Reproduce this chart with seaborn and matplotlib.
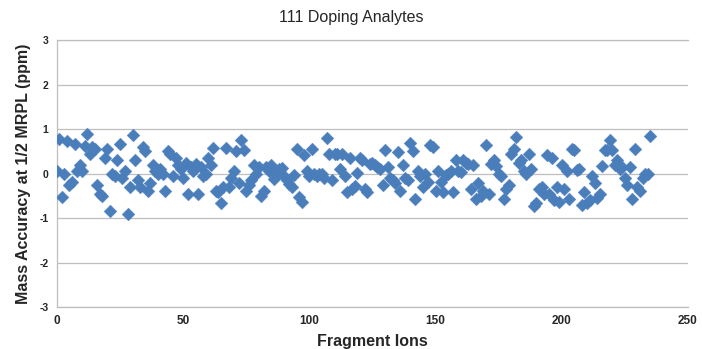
import matplotlib
matplotlib.use("Agg")
import matplotlib.pyplot as plt
import seaborn as sns
import pandas as pd
import numpy as np

mass_accuracy = [
    0.07, 0.78, -0.53, 0.0, 0.74, -0.25, -0.18, 0.67, 0.05, 0.2,
    0.07, 0.62, 0.88, 0.45, 0.6, 0.55, -0.25, -0.45, -0.5, 0.35,
    0.55, -0.85, 0.0, -0.05, 0.3, 0.67, -0.1, 0.05, -0.9, -0.3,
    0.87, 0.3, -0.15, -0.3, 0.6, 0.5, -0.4, -0.2, 0.2, 0.05,
    0.0, 0.1, 0.0, -0.38, 0.5, 0.45, -0.05, 0.35, 0.2, 0.1,
    -0.1, 0.25, -0.45, 0.15, 0.05, 0.22, -0.45, 0.15, -0.05, 0.0,
    0.35, 0.2, 0.58, -0.38, -0.42, -0.67, -0.3, 0.57, -0.3, -0.1,
    0.05, 0.5, -0.2, 0.75, 0.52, -0.38, -0.25, -0.15, 0.19, 0.0,
    0.15, -0.5, -0.4, 0.15, 0.05, 0.2, -0.12, -0.02, 0.1, 0.12,
    -0.05, -0.15, -0.23, -0.3, -0.04, 0.56, -0.53, -0.64, 0.41, 0.07,
    -0.05, 0.56, 0.0, -0.05, 0.0, 0.0, -0.1, 0.79, 0.45, -0.15,
    0.45, 0.45, 0.1, 0.45, -0.05, -0.41, 0.34, -0.35, -0.28, 0.01,
    0.34, 0.3, -0.34, -0.41, 0.22, 0.25, 0.2, 0.15, 0.1, -0.26,
    0.53, 0.15, -0.1, -0.15, -0.2, 0.49, -0.38, 0.2, -0.1, -0.15,
    0.68, 0.5, -0.56, 0.05, -0.05, -0.3, 0.0, -0.19, 0.64, 0.6,
    -0.38, 0.07, -0.19, -0.41, -0.02, 0.0, 0.05, -0.41, 0.3, 0.07,
    0.03, 0.3, 0.25, 0.22, -0.35, 0.2, -0.57, -0.2, -0.5, -0.38,
    0.64, -0.45, 0.22, 0.3, 0.18, 0.0, -0.05, -0.56, -0.35, -0.25,
    0.45, 0.55, 0.83, 0.25, 0.3, 0.05, 0.0, 0.45, 0.1, -0.72,
    -0.65, -0.35, -0.3, -0.45, 0.41, -0.45, 0.35, -0.6, -0.3, -0.64,
    0.2, -0.34, 0.05, -0.56, 0.56, 0.52, 0.08, 0.11, -0.71, -0.41,
    -0.65, -0.6, -0.05, -0.2, -0.55, -0.45, 0.18, 0.52, 0.52, 0.75,
    0.52, 0.2, 0.3, 0.1, 0.15, -0.1, -0.25, 0.15, -0.56, 0.56,
    -0.3, -0.4, -0.1, 0.0, 0.0, 0.85,
]
fragment_ion = list(range(len(mass_accuracy)))

x_ticks = [0, 50, 100, 150, 200, 250]
y_ticks = [-3, -2, -1, 0, 1, 2, 3]

sns.set_theme(style="white")
plt.rcParams["font.family"] = ["Liberation Sans", "DejaVu Sans"]

df = pd.DataFrame({"Fragment Ions": fragment_ion, "Mass Accuracy": mass_accuracy})

fig = plt.figure(figsize=(7.02, 3.49), dpi=100)
ax = fig.add_axes([0.081, 0.120, 0.899, 0.765])

sns.scatterplot(data=df, x="Fragment Ions", y="Mass Accuracy", marker="D",
                color="#4A7EBB", edgecolor="#4A7EBB", linewidth=0.3, s=42,
                ax=ax, zorder=3, legend=False)

ax.set_xlim(0, 250)
ax.set_ylim(-3, 3)
ax.set_xticks(x_ticks)
ax.set_yticks(y_ticks)
ax.set_xticklabels([str(t) for t in x_ticks], fontsize=8.5, fontweight="bold")
ax.set_yticklabels([str(t) for t in y_ticks], fontsize=7.5, fontweight="bold")
ax.tick_params(axis="both", length=0, pad=6)
ax.yaxis.grid(True, color="#BEBEBE", linewidth=0.9)
ax.xaxis.grid(False)
for side in ["left", "top", "bottom"]:
    ax.spines[side].set_color("#BEBEBE")
    ax.spines[side].set_linewidth(0.9)
ax.spines["right"].set_visible(False)

ax.set_xlabel("Fragment Ions", fontsize=11.5, fontweight="bold", labelpad=5)
ax.set_ylabel("Mass Accuracy at 1/2 MRPL (ppm)", fontsize=11.5, fontweight="bold", labelpad=6)
fig.text(0.5, 0.95, "111 Doping Analytes", ha="center", va="center", fontsize=11.5)

fig.savefig("out.png", dpi=100)
